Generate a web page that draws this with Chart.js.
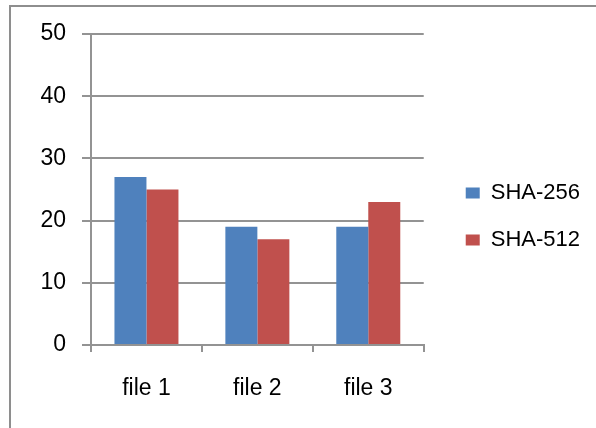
<!DOCTYPE html>
<html>
<head>
<meta charset="utf-8">
<script src="https://cdn.jsdelivr.net/npm/chart.js@4/dist/chart.umd.min.js"></script>
<style>
  html, body { margin: 0; padding: 0; background: #fff; overflow: hidden; width: 596px; height: 428px; }
  #frame {
    position: absolute; left: 9px; top: 5px; width: 620px; height: 460px;
    border-left: 2px solid #8e8e8e; border-top: 2px solid #8e8e8e;
  }
  canvas { position: absolute; left: 0; top: 0; display: block; }
</style>
</head>
<body>
<div id="frame"></div>
<canvas id="c" width="590" height="428"></canvas>
<script>
// Hashing time per file for two SHA variants
const categories = ['file 1', 'file 2', 'file 3'];
const sha256 = [27, 19, 19];
const sha512 = [25, 17, 23];
const seriesNames = ['SHA-256', 'SHA-512'];
const yTicks = { min: 0, max: 50, step: 10 };

const FONT = 'Liberation Sans';
const GRID = '#939393';

new Chart(document.getElementById('c'), {
  type: 'bar',
  data: {
    labels: categories,
    datasets: [
      { label: seriesNames[0], data: sha256, backgroundColor: '#4F81BD', yAxisID: 'y' },
      { label: seriesNames[1], data: sha512, backgroundColor: '#C0504D', yAxisID: 'y' }
    ]
  },
  options: {
    responsive: false,
    animation: false,
    devicePixelRatio: 1,
    categoryPercentage: 0.577,
    barPercentage: 1.0,
    layout: { padding: { top: 34, bottom: 29, left: 0, right: 0 } },
    plugins: {
      tooltip: { enabled: false },
      legend: {
        position: 'right',
        align: 'center',
        maxWidth: 240,
        labels: {
          boxWidth: 14,
          boxHeight: 11,
          padding: 25,
          color: '#000',
          font: { family: FONT, size: 22 }
        }
      }
    },
    scales: {
      x: {
        offset: true,
        grid: {
          offset: true,
          drawOnChartArea: false,
          drawTicks: true,
          tickLength: 7,
          color: GRID,
          lineWidth: 2
        },
        border: { display: true, color: GRID, width: 2 },
        ticks: { color: '#000', padding: 23, font: { family: FONT, size: 23 } },
        afterFit(s) { s.height = 428 - 29 - 345; }
      },
      y: {
        min: yTicks.min,
        max: yTicks.max,
        grid: { color: GRID, lineWidth: 2, drawTicks: true, tickLength: 9 },
        border: { display: true, color: GRID, width: 2 },
        ticks: { stepSize: yTicks.step, color: '#000', padding: 16, font: { family: FONT, size: 23 } },
        afterFit(s) { s.width = 91; }
      },
      gap: {
        position: 'right',
        display: true,
        grid: { display: false },
        border: { display: false },
        ticks: { display: false },
        afterFit(s) { s.width = 17; }
      }
    }
  }
});
</script>
</body>
</html>
